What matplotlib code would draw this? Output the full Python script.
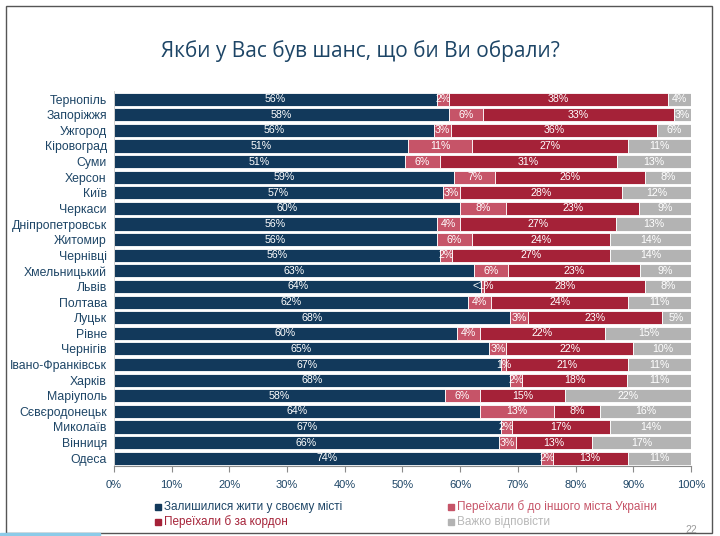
import matplotlib
matplotlib.use("Agg")
import matplotlib.pyplot as plt
from matplotlib.patches import Rectangle
import numpy as np

cities = ["Тернопіль", "Запоріжжя", "Ужгород", "Кіровоград", "Суми", "Херсон", "Київ",
          "Черкаси", "Дніпропетровськ", "Житомир", "Чернівці", "Хмельницький", "Львів",
          "Полтава", "Луцьк", "Рівне", "Чернігів", "Івано-Франківськ", "Харків",
          "Маріуполь", "Сєвєродонецьк", "Миколаїв", "Вінниця", "Одеса"]
stay = [56, 58, 56, 51, 51, 59, 57, 60, 56, 56, 56, 63, 64, 62, 68, 60, 65, 67, 68, 58, 64, 67, 66, 74]
other_city = [2, 6, 3, 11, 6, 7, 3, 8, 4, 6, 2, 6, 0.5, 4, 3, 4, 3, 1, 2, 6, 13, 2, 3, 2]
abroad = [38, 33, 36, 27, 31, 26, 28, 23, 27, 24, 27, 23, 28, 24, 23, 22, 22, 21, 18, 15, 8, 17, 13, 13]
hard = [4, 3, 6, 11, 13, 8, 12, 9, 13, 14, 14, 9, 8, 11, 5, 15, 10, 11, 11, 22, 16, 14, 17, 11]
ticks = [0, 10, 20, 30, 40, 50, 60, 70, 80, 90, 100]

series_names = ["Залишилися жити у своєму місті", "Переїхали б до іншого міста України",
                "Переїхали б за кордон", "Важко відповісти"]
colors = ["#12395b", "#c65468", "#a52238", "#b3b3b3"]
text_colors = ["#1d4566", "#c65468", "#a52238", "#b8b8b8"]

narrow = ["Liberation Sans", "DejaVu Sans"]

fig = plt.figure(figsize=(7.2, 5.36), dpi=100)
ax = fig.add_axes([0.158, 0.1306, 0.802, 0.699])

data = np.array([stay, other_city, abroad, hard], dtype=float)
totals = data.sum(axis=0)
norm = data / totals * 100
y = np.arange(len(cities))
left = np.zeros(len(cities))
for k in range(4):
    ax.barh(y, norm[k], left=left, height=0.84, color=colors[k], edgecolor="white", linewidth=0.6)
    for i in range(len(cities)):
        v = data[k][i]
        lab = "<1%" if v < 1 else f"{int(v)}%"
        ax.text(left[i] + norm[k][i] / 2, y[i], lab, ha="center", va="center", color="white",
                fontsize=7.7, family=narrow)
    left += norm[k]

ax.set_ylim(len(cities) - 0.5, -0.5)
ax.set_xlim(0, 100)
ax.set_yticks(y)
ax.set_yticklabels(cities, family=narrow, fontsize=8.8, color="#1d4566")
ax.set_xticks(ticks)
ax.set_xticklabels([f"{t}%" for t in ticks], family=narrow, fontsize=8, color="#1d4566")
ax.tick_params(axis="y", length=0, pad=5)
ax.tick_params(axis="x", length=4, color="#8a8a8a", pad=6)
for s in ["top", "right"]:
    ax.spines[s].set_visible(False)
ax.spines["bottom"].set_color("#8a8a8a")
ax.spines["left"].set_color("#c8c8c8")
ax.spines["left"].set_linewidth(0.6)

fig.text(0.5, 0.905, "Якби у Вас був шанс, що би Ви обрали?", ha="center", va="center",
         fontsize=15, color="#1d4566", family=["Open Sans", "DejaVu Sans"])

# legend
leg_y = [1 - 507 / 536, 1 - 507 / 536, 1 - 522 / 536, 1 - 522 / 536]
leg_x = [155 / 720, 448 / 720, 155 / 720, 448 / 720]
for k in range(4):
    fig.patches.append(Rectangle((leg_x[k], leg_y[k] - 0.006), 0.0085, 0.0115,
                                 transform=fig.transFigure, color=colors[k]))
    fig.text(leg_x[k] + 0.012, leg_y[k], series_names[k], ha="left", va="center",
             fontsize=8.5, color=text_colors[k], family=narrow)

fig.text(0.968, 0.012, "22", ha="right", va="center", fontsize=7.5, color="#9a9a9a", family=narrow)

# slide frame
fig.patches.append(Rectangle((6 / 720, 3 / 536), 706 / 720, 527 / 536, transform=fig.transFigure,
                             fill=False, edgecolor="#555555", linewidth=1.0))
fig.patches.append(Rectangle((0, 0), 100 / 720, 3 / 536, transform=fig.transFigure,
                             color="#8ccbe8"))

fig.savefig("out.png", dpi=100)
